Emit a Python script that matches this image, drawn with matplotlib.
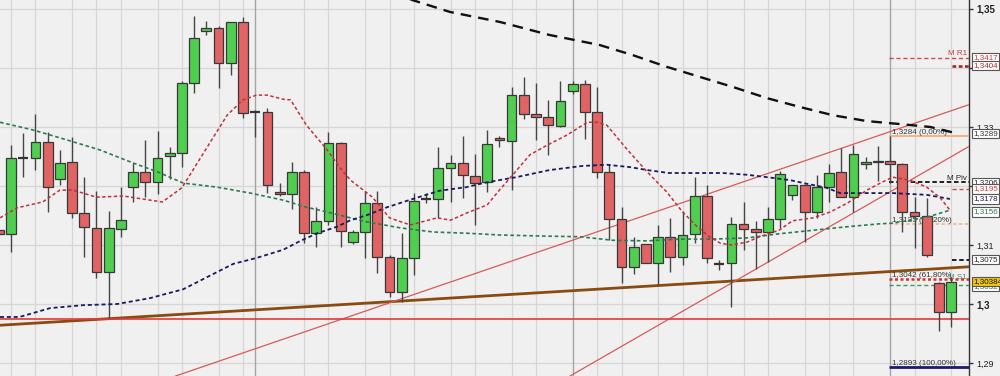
import matplotlib
matplotlib.use('Agg')
import matplotlib.pyplot as plt
from matplotlib.patches import Rectangle
from matplotlib.transforms import blended_transform_factory

plt.rcParams['font.family'] = ['Liberation Sans', 'DejaVu Sans']

# ---------------- data ----------------
opens = [1.3125, 1.3119, 1.3247, 1.3247, 1.3275, 1.3212, 1.3241, 1.3154, 1.3129, 1.3054,
         1.3127, 1.3198, 1.3224, 1.3207, 1.3251, 1.3256, 1.3375, 1.3463, 1.3468, 1.3408,
         1.3478, 1.3325, 1.3325, 1.3190, 1.3186, 1.3224, 1.3120, 1.3141, 1.3273, 1.3105,
         1.3122, 1.3171, 1.3080, 1.3020, 1.3078, 1.3178, 1.3178, 1.3231, 1.3239, 1.3217,
         1.3207, 1.3281, 1.3276, 1.3354, 1.3322, 1.3317, 1.3302, 1.3361, 1.3373, 1.3325,
         1.3224, 1.3144, 1.3063, 1.3102, 1.3069, 1.3114, 1.3080, 1.3119, 1.3183, 1.3068,
         1.3069, 1.3136, 1.3127, 1.3122, 1.3144, 1.3185, 1.3202, 1.3156, 1.3198, 1.3224,
         1.3181, 1.3237, 1.3240, 1.3242, 1.3237, 1.3156, 1.3149, 1.3036, 1.2986]
highs = [1.3134, 1.3269, 1.3290, 1.3322, 1.3292, 1.3261, 1.3283, 1.3215, 1.3192, 1.3158,
         1.3198, 1.3239, 1.3278, 1.3293, 1.3266, 1.3378, 1.3488, 1.3480, 1.3471, 1.3478,
         1.3486, 1.3329, 1.3332, 1.3205, 1.3241, 1.3227, 1.3164, 1.3292, 1.3275, 1.3125,
         1.3192, 1.3192, 1.3083, 1.3120, 1.3188, 1.3188, 1.3266, 1.3253, 1.3285, 1.3254,
         1.3295, 1.3285, 1.3368, 1.3385, 1.3375, 1.3346, 1.3378, 1.3378, 1.3380, 1.3368,
         1.3237, 1.3164, 1.3114, 1.3102, 1.3134, 1.3146, 1.3158, 1.3215, 1.3202, 1.3075,
         1.3147, 1.3173, 1.3141, 1.3164, 1.3225, 1.3202, 1.3203, 1.3219, 1.3237, 1.3264,
         1.3269, 1.3249, 1.3268, 1.3284, 1.3239, 1.3181, 1.3180, 1.3037, 1.3046]
lows = [1.3108, 1.3088, 1.3215, 1.3227, 1.3156, 1.3202, 1.3146, 1.3080, 1.3044, 1.2976,
        1.3114, 1.3173, 1.3181, 1.3186, 1.3212, 1.3232, 1.3358, 1.3456, 1.3366, 1.3388,
        1.3315, 1.3283, 1.3188, 1.3183, 1.3161, 1.3103, 1.3097, 1.3134, 1.3097, 1.3102,
        1.3078, 1.3053, 1.3012, 1.3003, 1.3049, 1.3171, 1.3146, 1.3173, 1.3180, 1.3134,
        1.3190, 1.3266, 1.3193, 1.3314, 1.3278, 1.3253, 1.3300, 1.3356, 1.3280, 1.3214,
        1.3108, 1.3036, 1.3051, 1.3069, 1.3032, 1.3054, 1.3066, 1.3103, 1.3069, 1.3058,
        1.2995, 1.3092, 1.3059, 1.3071, 1.3129, 1.3176, 1.3105, 1.3146, 1.3173, 1.3181,
        1.3156, 1.3229, 1.3208, 1.3205, 1.3122, 1.3095, 1.3080, 1.2954, 1.2961]
closes = [1.3119, 1.3247, 1.3247, 1.3275, 1.3198, 1.3239, 1.3154, 1.3131, 1.3054, 1.3129,
          1.3142, 1.3224, 1.3207, 1.3247, 1.3256, 1.3375, 1.3451, 1.3468, 1.3408, 1.3478,
          1.3324, 1.3325, 1.3202, 1.3186, 1.3224, 1.3120, 1.3141, 1.3273, 1.3124, 1.3122,
          1.3171, 1.3080, 1.3020, 1.3078, 1.3175, 1.3178, 1.3231, 1.3239, 1.3219, 1.3205,
          1.3271, 1.3278, 1.3354, 1.3322, 1.3317, 1.3303, 1.3344, 1.3373, 1.3325, 1.3224,
          1.3144, 1.3063, 1.3097, 1.3069, 1.3114, 1.3080, 1.3117, 1.3183, 1.3078, 1.3068,
          1.3136, 1.3127, 1.3122, 1.3144, 1.3220, 1.3202, 1.3156, 1.3198, 1.3222, 1.3181,
          1.3254, 1.3241, 1.3243, 1.3237, 1.3156, 1.3149, 1.3083, 1.2986, 1.3038]

# moving averages (bar position, price)
ma_red_x = [0.1, 1.5, 3.6, 5.0, 6.1, 8.0, 10.2, 12.4, 13.4, 15.0, 16.5, 18.7, 20.0, 21.1,
            22.0, 23.3, 23.9, 25.2, 26.9, 27.9, 28.8, 30.6, 32.0, 33.7, 35.9, 37.0, 38.3,
            40.0, 41.0, 42.1, 43.5, 44.9, 46.5, 48.2, 49.0, 49.8, 51.5, 53.1, 54.7, 56.0,
            57.2, 58.2, 59.1, 60.0, 61.3, 62.3, 63.9, 65.0, 66.7, 68.1, 69.5, 71.1, 72.2,
            73.2, 74.6, 76.0, 77.1, 77.9]
ma_red_y = [1.3146, 1.3163, 1.3173, 1.3193, 1.3193, 1.3181, 1.3183, 1.3176, 1.3173, 1.3197,
            1.3247, 1.3320, 1.3346, 1.3354, 1.3354, 1.3347, 1.3346, 1.3303, 1.3261, 1.3232,
            1.3210, 1.3181, 1.3146, 1.3134, 1.3146, 1.3142, 1.3154, 1.3168, 1.3193, 1.3219,
            1.3253, 1.3269, 1.3286, 1.3308, 1.3308, 1.3303, 1.3261, 1.3224, 1.3190, 1.3156,
            1.3131, 1.3114, 1.3103, 1.3100, 1.3105, 1.3114, 1.3125, 1.3141, 1.3146, 1.3156,
            1.3171, 1.3193, 1.3205, 1.3215, 1.3210, 1.3198, 1.3180, 1.3159]
ma_navy_x = [0.1, 1.7, 4.2, 6.9, 9.7, 12.4, 15.1, 17.1, 19.2, 21.1, 23.3, 24.7, 26.1, 27.7,
             28.8, 30.2, 31.8, 33.9, 36.1, 38.3, 39.7, 41.0, 42.4, 45.1, 47.8, 49.8, 51.7,
             53.1, 54.9, 57.2, 59.3, 61.3, 62.9, 64.8, 65.9, 67.8, 68.9, 70.3, 73.2, 76.0,
             77.9]
ma_navy_y = [1.2978, 1.2978, 1.2993, 1.2998, 1.3000, 1.3010, 1.3025, 1.3046, 1.3068, 1.3078,
             1.3092, 1.3107, 1.3120, 1.3131, 1.3142, 1.3151, 1.3164, 1.3178, 1.3192, 1.3198,
             1.3205, 1.3210, 1.3215, 1.3227, 1.3234, 1.3236, 1.3232, 1.3227, 1.3222, 1.3222,
             1.3222, 1.3219, 1.3215, 1.3210, 1.3205, 1.3197, 1.3188, 1.3188, 1.3188, 1.3185,
             1.3178]
ma_green_x = [0.1, 2.8, 5.6, 8.3, 11.0, 13.0, 15.1, 17.9, 20.6, 23.3, 25.2, 26.9, 28.8,
              30.2, 32.9, 35.6, 38.3, 41.0, 44.9, 47.6, 50.3, 53.1, 55.8, 58.5, 61.3, 63.9,
              66.7, 69.5, 72.2, 73.2, 76.0, 77.9]
ma_green_y = [1.3308, 1.3295, 1.3278, 1.3261, 1.3239, 1.3224, 1.3205, 1.3198, 1.3188, 1.3176,
              1.3164, 1.3156, 1.3146, 1.3139, 1.3129, 1.3122, 1.3120, 1.3117, 1.3115, 1.3114,
              1.3108, 1.3107, 1.3110, 1.3110, 1.3112, 1.3119, 1.3125, 1.3131, 1.3136, 1.3137,
              1.3147, 1.3159]
ma_black_x = [33.3, 33.9, 36.95, 41.05, 45.1, 49.2, 51.9, 54.7, 57.4, 60.1, 62.9, 65.6,
              68.3, 71.1, 73.8, 76.3, 78.3]
ma_black_y = [1.3520, 1.3515, 1.3495, 1.3478, 1.3456, 1.3439, 1.3422, 1.3402, 1.3385,
              1.3368, 1.3349, 1.3334, 1.3320, 1.3310, 1.3305, 1.3300, 1.3290]

# trend lines: two points each (bar position, price)
brown_line = [(0.1, 1.2964), (79.4, 1.3063)]
red_line_a = [(25.73, 1.29576), (79.38, 1.33373)]
red_line_b = [(53.33, 1.29559), (79.38, 1.32661)]
support_level = 1.29746

# levels on the right
fib_levels = [1.3284, 1.3135, 1.3042, 1.2893]
fib_labels = ['1,3284 (0,00%)', '1,3135 (38,20%)', '1,3042 (61,80%)', '1,2893 (100,00%)']
pivot_r1 = 1.3417
pivot_piv = 1.3206
level_3404 = 1.3404
level_3195 = 1.3195
level_3075 = 1.3075
level_green = 1.3032

axis_ticks = [1.29, 1.30, 1.31, 1.32, 1.33, 1.34, 1.35]
axis_tick_labels = ['1,29', '1,3', '1,31', '', '1,33', '', '1,35']

price_boxes = [  # value, text, text colour, face colour
    (1.3417, '1,3417', '#c83a3a', 'white'),
    (1.3404, '1,3404', '#b02828', 'white'),
    (1.3289, '1,3289', '#333333', 'white'),
    (1.3206, '1,3206', '#222222', 'white'),
    (1.3195, '1,3195', '#d03a3a', 'white'),
    (1.3178, '1,3178', '#1a1a66', 'white'),
    (1.3156, '1,3156', '#2e7a4a', 'white'),
    (1.3075, '1,3075', '#222222', 'white'),
    (1.3030, '1,3032', '#2e7a4a', 'white'),
    (1.30384, '1,30384', '#111111', '#f2c417'),
]

grid_regular = [1, 3, 6, 8, 10, 13, 15, 18, 20, 25, 27, 30, 32, 34, 37, 39, 42, 44, 49, 51,
                54, 56, 58, 61, 63, 66, 68, 70, 75, 78]
grid_dark = [21, 47, 73]

# ---------------- drawing ----------------
BG = '#f0f0f0'
fig = plt.figure(figsize=(10, 3.76), dpi=100)
fig.patch.set_facecolor(BG)
ax = fig.add_axes([0, 0, 0.969, 1])
ax.set_facecolor(BG)
ax.set_xlim(0.099, 79.46)
ax.set_ylim(1.287797, 1.351525)

for s in ['top', 'left', 'bottom']:
    ax.spines[s].set_visible(False)
ax.spines['right'].set_color('#333333')
ax.spines['right'].set_linewidth(1.0)

ax.set_xticks([])
ax.yaxis.tick_right()
ax.set_yticks(axis_ticks)
ax.set_yticklabels(axis_tick_labels)
ax.tick_params(axis='y', direction='out', length=3, width=1, color='#333333',
               pad=2, labelsize=6.5, labelcolor='#222222')
for lab in ax.get_yticklabels():
    if lab.get_text() in ('1,35', '1,3'):
        lab.set_fontweight('bold')
        lab.set_fontsize(7)

# grid
for v in axis_ticks:
    ax.axhline(v, color='#d6d6d6', lw=0.9, zorder=0)
for g in grid_regular:
    ax.axvline(g, color='#d6d6d6', lw=0.9, zorder=0)
for g in grid_dark:
    ax.axvline(g, color='#a4a4a4', lw=1.0, zorder=0)

# trend lines
ax.axline(brown_line[0], brown_line[1], color='#8a4b12', lw=2.0, zorder=3)
ax.axline(red_line_a[0], red_line_a[1], color='#d85a5a', lw=0.9, zorder=3)
ax.axline(red_line_b[0], red_line_b[1], color='#d85a5a', lw=0.9, zorder=3)
ax.axhline(support_level, color='#e23a3a', lw=1.2, zorder=3)

# right-side levels
x_seg0, x_short0, x_end = 72.9, 78.05, 79.46
ax.hlines(pivot_r1, x_seg0, x_end, colors='#d04848', lw=1.0, linestyles=(0, (3, 2)), zorder=3)
ax.hlines(level_3404, x_short0, x_end, colors='#a02020', lw=1.8, linestyles=(0, (1.5, 1)), zorder=3)
ax.hlines(fib_levels[0], x_seg0, x_end, colors='#f0b48a', lw=1.5, zorder=3)
ax.hlines(pivot_piv, x_seg0, x_end, colors='#111111', lw=1.3, linestyles=(0, (2.5, 1.5)), zorder=3)
ax.hlines(level_3195, x_short0, x_end, colors='#d04848', lw=1.0, linestyles=(0, (3, 2)), zorder=3)
ax.hlines(fib_levels[1], x_seg0, x_end, colors='#f0b48a', lw=1.2, linestyles=(0, (2, 1.5)), zorder=3)
ax.hlines(level_3075, x_short0, x_end, colors='#111111', lw=1.3, linestyles=(0, (2.5, 1.5)), zorder=3)
ax.hlines(fib_levels[2], x_seg0, x_end, colors='#d83030', lw=1.8, linestyles=(0, (1.2, 1)), zorder=3)
ax.hlines(level_green, x_seg0, x_end, colors='#3a9a5a', lw=1.0, linestyles=(0, (3, 2)), zorder=3)
ax.hlines(fib_levels[3], x_seg0, x_end, colors='#1a1a70', lw=2.0, zorder=3)

for v, t in zip(fib_labels and fib_levels, fib_labels):
    ax.text(73.15, v + 0.0001, t, fontsize=5.8, color='#333333', ha='left', va='bottom', zorder=4)
ax.text(79.3, pivot_r1 + 0.0001, 'M R1', fontsize=5.8, color='#c83a3a', ha='right', va='bottom', zorder=4)
ax.text(79.3, pivot_piv + 0.0001, 'M Piv', fontsize=5.8, color='#222222', ha='right', va='bottom', zorder=4)
ax.text(79.3, fib_levels[2] - 0.0003, 'M S1', fontsize=5.8, color='#5a8a5a', ha='right', va='bottom', zorder=4)

# candles
w = 0.8
for i, (o, h, l, c) in enumerate(zip(opens, highs, lows, closes)):
    ax.vlines(i, l, h, color='#454545', lw=1.0, zorder=5)
    if abs(c - o) < 0.00005:
        ax.hlines(o, i - w / 2, i + w / 2, color='#333333', lw=1.6, zorder=6)
        continue
    col = '#4fce4f' if c > o else '#e06464'
    ax.add_patch(Rectangle((i - w / 2, min(o, c)), w, abs(c - o), facecolor=col,
                           edgecolor='#383838', lw=0.9, zorder=6))

# moving averages
ax.plot(ma_black_x, ma_black_y, color='#111111', lw=1.7, dashes=(4.5, 3), zorder=7)
ax.plot(ma_green_x, ma_green_y, color='#2e7a50', lw=1.2, dashes=(2.2, 1.6), zorder=7)
ax.plot(ma_navy_x, ma_navy_y, color='#1a1a5e', lw=1.3, dashes=(2.2, 1.6), zorder=7)
ax.plot(ma_red_x, ma_red_y, color='#c0303a', lw=1.1, dashes=(2.2, 1.6), zorder=7)

# boxed price labels on the axis
tr = blended_transform_factory(ax.transAxes, ax.transData)
for v, t, tc, fc in price_boxes:
    ax.text(1.0045, v, t, transform=tr, fontsize=5.8, color=tc, ha='left', va='center',
            clip_on=False, zorder=10,
            bbox=dict(boxstyle='square,pad=0.15', facecolor=fc, edgecolor='#555555', lw=0.8))

fig.savefig('out.png', dpi=100, facecolor=BG)
